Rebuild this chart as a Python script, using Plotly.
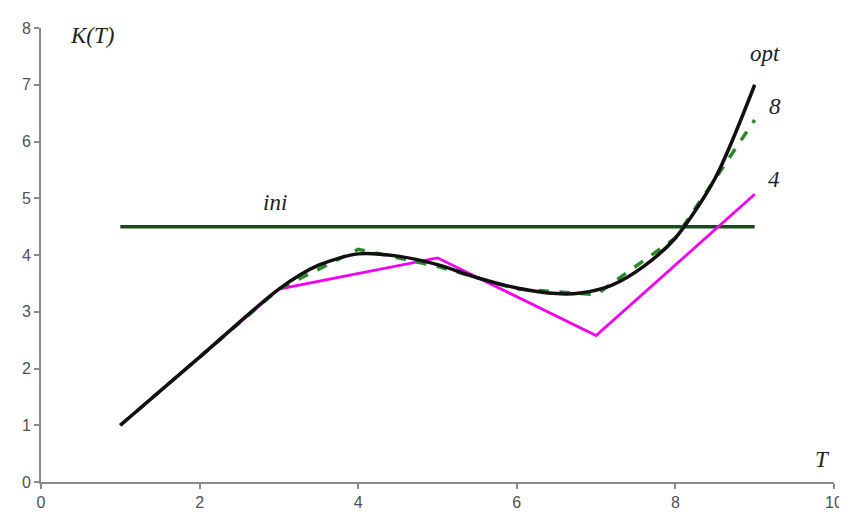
import plotly.graph_objects as go

# --- data ---
t_ini = [1, 9]
k_ini = [4.5, 4.5]

t_4 = [1, 3, 5, 7, 9]
k_4 = [1.0, 3.4, 3.95, 2.58, 5.07]

t_8 = [1, 2, 3, 4, 5, 6, 7, 8, 9]
k_8 = [1.0, 2.2, 3.4, 4.1, 3.8, 3.4, 3.3, 4.3, 6.38]

t_opt = [1, 2, 3, 3.5, 4, 4.5, 5, 5.5, 6, 6.5, 6.8, 7.2, 7.6, 8, 8.5, 9]
k_opt = [1.0, 2.2, 3.4, 3.82, 4.02, 3.98, 3.83, 3.6, 3.42, 3.32, 3.33, 3.47, 3.8, 4.3, 5.35, 7.0]

x_ticks = [0, 2, 4, 6, 8, 10]
y_ticks = [0, 1, 2, 3, 4, 5, 6, 7, 8]

fig = go.Figure()
fig.add_trace(go.Scatter(x=t_ini, y=k_ini, mode="lines",
                         line=dict(color="#1d4a1d", width=3.5), name="ini"))
fig.add_trace(go.Scatter(x=t_4, y=k_4, mode="lines",
                         line=dict(color="#f000f0", width=2.8), name="4"))
fig.add_trace(go.Scatter(x=t_8, y=k_8, mode="lines",
                         line=dict(color="#2a8a2a", width=3.5, dash="dash"), name="8"))
fig.add_trace(go.Scatter(x=t_opt, y=k_opt, mode="lines",
                         line=dict(color="#111111", width=3.5, shape="spline", smoothing=0.8),
                         name="opt"))

serif = dict(family="Liberation Serif, Times New Roman, serif", size=23, color="#222222")
labels = [
    ("K(T)", 0.64, 7.86),
    ("T", 9.85, 0.4),
    ("opt", 9.13, 7.55),
    ("8", 9.25, 6.62),
    ("4", 9.24, 5.33),
    ("ini", 2.95, 4.93),
]
for txt, xx, yy in labels:
    fig.add_annotation(x=xx, y=yy, xref="x", yref="y", text="<i>%s</i>" % txt,
                       showarrow=False, font=serif)

axis_common = dict(showline=True, linecolor="#8a8a8a", linewidth=2, ticks="outside",
                   ticklen=5, tickcolor="#8a8a8a", tickwidth=1.5, showgrid=False,
                   zeroline=False, tickfont=dict(family="Liberation Sans, Arial, sans-serif",
                                                 size=16, color="#505050"))
fig.update_xaxes(range=[0, 10], tickvals=x_ticks, **axis_common)
fig.update_yaxes(range=[0, 8], tickvals=y_ticks, **axis_common)

fig.update_layout(width=847, height=515, showlegend=False,
                  margin=dict(l=33, r=21, t=14, b=39),
                  plot_bgcolor="white", paper_bgcolor="white")

fig.write_html("out.html")
